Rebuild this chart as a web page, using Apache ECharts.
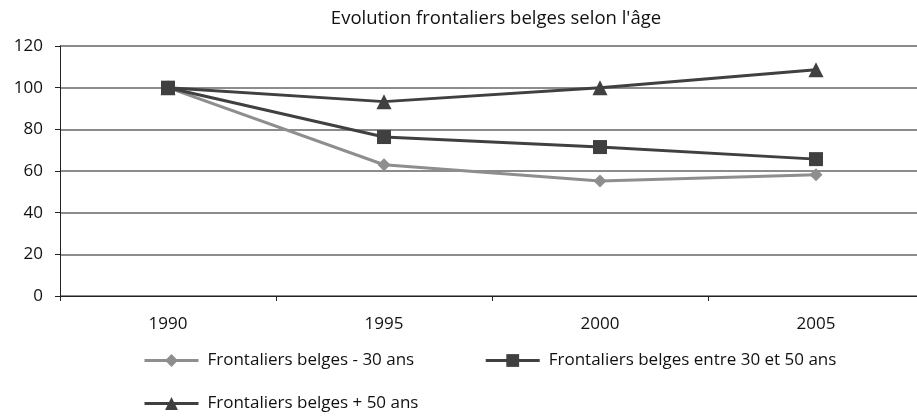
<!DOCTYPE html>
<html>
<head>
<meta charset="utf-8">
<script src="https://cdn.jsdelivr.net/npm/echarts@6/dist/echarts.min.js"></script>
<style>
  html, body { margin: 0; padding: 0; background: #fff; overflow: hidden; }
  #main { width: 924px; height: 416px; }
</style>
</head>
<body>
<div id="main"></div>
<script>
var years = ['1990', '1995', '2000', '2005'];
var moins30 = [100, 63, 55.2, 58.2];
var entre30et50 = [100, 76.3, 71.5, 65.7];
var plus50 = [100, 93.3, 100, 108.6];
var yTicks = { min: 0, max: 120, interval: 20 };

var chartDom = document.getElementById('main');
var myChart = echarts.init(chartDom);
var option;

var font = 'Open Sans';

option = {
    backgroundColor: '#fff',
    animation: false,
    title: {
        text: "Evolution frontaliers belges selon l'âge",
        left: 491,
        textAlign: 'center',
        top: 4,
        textStyle: {
            fontFamily: font,
            fontSize: 18.5,
            fontWeight: 'normal',
            color: '#111'
        }
    },
    legend: [{
        data: ['Frontaliers belges - 30 ans', 'Frontaliers belges entre 30 et 50 ans'],
        left: 138,
        top: 347,
        itemWidth: 54,
        itemHeight: 16,
        itemGap: 70,
        lineStyle: { width: 3 },
        textStyle: { fontFamily: font, fontSize: 17, color: '#111', padding: [0, 0, 0, 4] }
    }, {
        data: ['Frontaliers belges + 50 ans'],
        left: 138,
        top: 390,
        itemWidth: 54,
        itemHeight: 16,
        lineStyle: { width: 3 },
        textStyle: { fontFamily: font, fontSize: 17, color: '#111', padding: [0, 0, 0, 4] }
    }],
    grid: {
        left: 60,
        top: 46,
        right: 0,
        height: 250
    },
    xAxis: {
        type: 'category',
        data: years,
        boundaryGap: true,
        axisLine: { lineStyle: { color: '#222', width: 1 } },
        axisTick: { show: true, length: 5, lineStyle: { color: '#222' } },
        axisLabel: { fontFamily: font, fontSize: 17, color: '#111', margin: 20 }
    },
    yAxis: {
        type: 'value',
        min: yTicks.min,
        max: yTicks.max,
        interval: yTicks.interval,
        axisLine: { show: true, lineStyle: { color: '#222', width: 1 } },
        axisTick: { show: true, length: 5, lineStyle: { color: '#222' } },
        axisLabel: { fontFamily: font, fontSize: 17, color: '#111', margin: 17 },
        splitLine: { lineStyle: { color: '#666', width: 1.5 } }
    },
    series: [{
            name: 'Frontaliers belges - 30 ans',
            type: 'line',
            data: moins30,
            symbol: 'diamond',
            symbolSize: 13,
            color: '#8e8e8e',
            lineStyle: { width: 3, color: '#8e8e8e' },
            itemStyle: { color: '#8e8e8e' },
            z: 3
        },
        {
            name: 'Frontaliers belges entre 30 et 50 ans',
            type: 'line',
            data: entre30et50,
            symbol: 'rect',
            symbolSize: 14,
            color: '#404040',
            lineStyle: { width: 3, color: '#404040' },
            itemStyle: { color: '#404040' },
            z: 4
        },
        {
            name: 'Frontaliers belges + 50 ans',
            type: 'line',
            data: plus50,
            symbol: 'triangle',
            symbolSize: 15,
            color: '#404040',
            lineStyle: { width: 3, color: '#404040' },
            itemStyle: { color: '#404040' },
            z: 5
        }
    ]
};

option && myChart.setOption(option);
</script>
</body>
</html>
